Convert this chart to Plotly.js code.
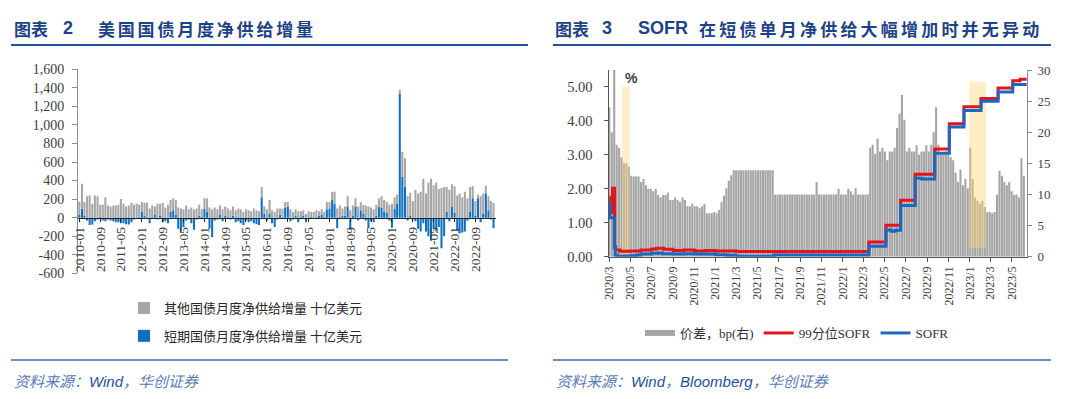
<!DOCTYPE html>
<html><head><meta charset="utf-8">
<script src="https://cdn.plot.ly/plotly-3.0.1.min.js"></script>
<style>html,body{margin:0;padding:0;background:#fff}#chart{width:1080px;height:399px}</style>
</head><body><div id="chart"></div>
<script>
const W = 1080, H = 399;
function px(x){ return x / W; }
function py(y){ return 1 - y / H; }

// ---------- Left chart: monthly net supply (billion USD), 2010-01 .. 2023-04 ----------
const leftStartYear = 2010;
const billsNet = [
  30, 95, 20, -30, -80, -75, -40, -20, 10, -30, -40, -20,        // 2010
  -30, -40, -50, -50, -60, -60, -70, -75, -50, -20, -10, 10,     // 2011
  60, 20, -10, -60, 10, 30, -20, 20, -50, -40, -60, 60,          // 2012
  80, 30, -120, -150, -100, -30, -20, -60, -130, -20, 20, 10,    // 2013
  100, 60, -120, -210, -30, -20, 30, -40, 20, 10, -20, 20,       // 2014
  -50, -40, -60, -80, -30, -50, -40, -60, -70, -80, 220, 40,     // 2015
  -30, 40, -60, -100, -20, 30, 10, 110, 120, -40, -20, 20,       // 2016
  -50, 10, 20, -50, -20, 10, -10, 10, 20, 30, 10, 90,            // 2017
  100, 190, 150, -115, 10, 20, 20, 120, -130, 20, 120, -30,      // 2018
  80, 40, -30, -115, -40, -50, 20, 120, 110, 60, 50, -30,        // 2019
  -110, 100, 150, 1340, 440, 330, -30, 20, -20, -40, -120, -150, // 2020
  -60, -150, -200, -250, -120, -150, -100, -330, -200, 60, -40, 120, // 2021
  50, -140, -170, -160, -150, -30, 60, 209, 20, 209, -50, 40,    // 2022
  263, 80, -20, -115                                             // 2023
];
const otherNet = [
  145, 270, 150, 230, 240, 150, 240, 230, 130, 140, 220, 130,    // 2010
  120, 130, 130, 140, 200, 150, 120, 130, 160, 140, 150, 130,    // 2011
  110, 140, 160, 100, 120, 90, 150, 130, 160, 110, 140, 130,     // 2012
  130, 160, 110, 100, 90, 130, 90, 110, 90, 100, 120, 80,        // 2013
  110, 150, 110, 90, 110, 90, 100, 90, 100, 90, 80, 100,         // 2014
  80, 100, 90, 60, 90, 80, 70, 100, 80, 70, 110, 80,             // 2015
  90, 150, 80, 60, 100, 70, 90, 60, 50, 90, 60, 70,              // 2016
  70, 60, 60, 40, 70, 50, 60, 70, 50, 60, 50, 80,                // 2017
  70, 90, 130, 100, 120, 80, 100, 110, 80, 110, 90, 120,         // 2018
  90, 100, 130, 120, 110, 90, 120, 90, 120, 130, 120, 140,       // 2019
  150, 120, 100, 40, 270, 310, 230, 250, 180, 300, 260, 280,     // 2020
  420, 260, 380, 420, 350, 380, 310, 320, 330, 270, 300, 240,    // 2021
  290, 240, 260, 220, 280, 210, 270, 130, 160, 40, 230, 220,     // 2022
  80, 150, 180, 160                                              // 2023
];
const leftTickVals = [-600, -400, -200, 0, 200, 400, 600, 800, 1000, 1200, 1400, 1600];
const leftTickText = ['-600', '-400', '-200', '0', '200', '400', '600', '800', '1,000', '1,200', '1,400', '1,600'];
const months = billsNet.map((_, i) => {
  const y = leftStartYear + Math.floor(i / 12), m = i % 12 + 1;
  return y + '-' + String(m).padStart(2, '0') + '-01';
});

// ---------- Right chart ----------
// spread (bp, right axis), weekly from 2020-03-02
const spreadStart = '2020-03-02';
const spreadBp = [
  24, 20, 35, 18, 17.5, 16, 15, 15, 14.5, 13,
  12.9, 12.9, 12.9, 12, 12.5, 11.5, 10.9, 10.9, 10.5, 10.9,
  9.9, 9.5, 9.9, 9.9, 10.3, 9.1, 9.1, 9.5, 9.1, 8.8,
  9.5, 9.1, 8.1, 8.1, 8.5, 8.1, 8.1, 7.8, 8.1, 8.5,
  7.0, 7.0, 7.0, 7.2, 7.0, 7.5, 8.8, 9.8, 11, 12.2,
  13.1, 13.9, 13.9, 13.9, 13.9, 13.9, 13.9, 13.9, 13.9, 13.9,
  13.9, 13.9, 13.9, 13.9, 13.9, 13.9, 13.9, 13.9, 10.0, 10.0,
  10.0, 10.0, 10.0, 10.0, 10.0, 10.0, 10.0, 10.0, 10.0, 10.0,
  10.0, 10.0, 10.0, 10.0, 10.0, 12.0, 10.0, 10.0, 10.0, 10.0,
  10.0, 10.0, 10.0, 10.0, 10.9, 10.0, 10.0, 10.0, 10.9, 10.5,
  10.0, 11.0, 10.0, 10.0, 10.0, 10.0, 10.0,
  17.5, 18, 16.5, 19, 16.9, 17.5, 16.9, 15.5, 16.9, 16.9, 17.5,
  20.7, 23, 26, 22, 16.9, 17.5, 16.9, 16.9, 17.9, 16.4,
  16.9, 16.9, 17.9, 16.9, 18, 20, 24, 18, 16.4, 16.4,
  16.9, 16.4, 16, 15.5, 13.5, 12, 14, 11.5, 12.5, 11,
  17.5, 12.5, 9.5, 9, 8.5, 9, 8, 7.2, 7.2, 7.0,
  7.2, 10, 13.8, 13, 12, 11.5, 12, 10.5, 9.9, 10,
  9.5, 15.8, 13
];
const spreadDates = spreadBp.map((_, i) => {
  const d = new Date(spreadStart + 'T00:00:00Z');
  d.setUTCDate(d.getUTCDate() + 7 * i);
  return d.toISOString().slice(0, 10);
});

const sofrDates = ['2020-03-02','2020-03-04','2020-03-16','2020-03-19','2020-03-26','2020-04-15','2020-05-01','2020-05-20','2020-06-01','2020-07-01','2020-07-20','2020-08-01','2020-09-01','2020-10-01','2020-11-01','2020-12-01','2021-01-01','2021-02-01','2021-03-01','2021-06-17','2021-12-01','2022-03-17','2022-05-05','2022-05-20','2022-06-01','2022-06-16','2022-07-28','2022-08-15','2022-09-22','2022-11-03','2022-12-15','2023-02-02','2023-03-23','2023-05-04','2023-06-13'];
const sofrVals  = [1.60, 1.15, 0.26, 0.04, 0.01, 0.02, 0.03, 0.05, 0.08, 0.10, 0.11, 0.09, 0.08, 0.09, 0.08, 0.08, 0.06, 0.04, 0.01, 0.05, 0.05, 0.31, 0.79, 0.75, 0.78, 1.51, 2.31, 2.29, 3.05, 3.82, 4.31, 4.58, 4.85, 5.07, 5.07];

const p99Dates = ['2020-03-02','2020-03-06','2020-03-11','2020-03-17','2020-03-20','2020-04-01','2020-05-01','2020-06-01','2020-07-01','2020-07-15','2020-08-05','2020-09-01','2020-10-01','2020-11-01','2020-12-01','2021-01-01','2021-03-01','2022-03-17','2022-05-05','2022-06-16','2022-07-28','2022-09-22','2022-11-03','2022-12-15','2023-02-02','2023-03-23','2023-05-04','2023-05-25','2023-06-13'];
const p99Vals  = [1.75, 1.30, 2.02, 0.30, 0.20, 0.16, 0.17, 0.20, 0.23, 0.25, 0.22, 0.18, 0.20, 0.17, 0.18, 0.17, 0.15, 0.43, 0.93, 1.66, 2.43, 3.17, 3.92, 4.42, 4.66, 4.97, 5.18, 5.23, 5.23];

// highlighted windows (right-axis units)
const bandStart = ['2020-04-08', '2022-12-30'];
const bandEnd   = ['2020-04-29', '2023-02-16'];
const bandLow   = [0, 1.4];
const bandHigh  = [27.3, 28.1];

const serif = 'Liberation Serif, Times New Roman, serif';
const cjk = 'Noto Sans CJK SC, sans-serif';

const traces = [];
traces.push({
  type: 'bar', x: months, y: billsNet, xaxis: 'x', yaxis: 'y',
  name: '短期国债月度净供给增量 十亿美元', legend: 'legend', legendgroup: 'b', legendrank: 2,
  marker: {color: '#0b6fc3', line: {width: 0}}, hoverinfo: 'x+y'
});
traces.push({
  type: 'bar', x: months, y: otherNet, xaxis: 'x', yaxis: 'y',
  name: '其他国债月度净供给增量 十亿美元', legend: 'legend', legendgroup: 'a', legendrank: 1,
  marker: {color: '#a6a6a6', line: {width: 0}}, hoverinfo: 'x+y'
});

traces.push({
  type: 'bar', x: spreadDates, y: spreadBp, xaxis: 'x2', yaxis: 'y3',
  width: 6 * 86400000, marker: {color: '#a5a5a5', line: {width: 0}},
  showlegend: false, name: '价差，bp(右)'
});
bandStart.forEach((s, i) => {
  traces.push({
    type: 'scatter', mode: 'lines', xaxis: 'x2', yaxis: 'y3',
    x: [s, s, bandEnd[i], bandEnd[i], s],
    y: [bandLow[i], bandHigh[i], bandHigh[i], bandLow[i], bandLow[i]],
    fill: 'toself', fillcolor: 'rgba(250,214,120,0.42)', line: {width: 0},
    showlegend: false, hoverinfo: 'skip'
  });
});
traces.push({
  type: 'scatter', mode: 'lines', x: [null], y: [null], xaxis: 'x2', yaxis: 'y3',
  name: '价差，bp(右)', legend: 'legend2', line: {color: '#a6a6a6', width: 6}
});
traces.push({
  type: 'scatter', mode: 'lines', x: p99Dates, y: p99Vals, xaxis: 'x2', yaxis: 'y4',
  name: '99分位SOFR', legend: 'legend2', line: {color: '#e3141c', width: 3, shape: 'hv'}
});
traces.push({
  type: 'scatter', mode: 'lines', x: sofrDates, y: sofrVals, xaxis: 'x2', yaxis: 'y4',
  name: 'SOFR', legend: 'legend2', line: {color: '#1a68c0', width: 3, shape: 'hv'}
});

const yDomL = [py(273.3), py(69.3)];
const zeroPos = py(217.7);

const layout = {
  width: W, height: H,
  margin: {l: 0, r: 0, t: 0, b: 0},
  paper_bgcolor: '#fff', plot_bgcolor: 'rgba(0,0,0,0)',
  barmode: 'relative', bargap: 0.15,
  showlegend: true,
  xaxis: {
    type: 'date', domain: [px(78), px(496)], range: ['2009-12-16', '2023-04-30'],
    anchor: 'free', position: zeroPos,
    tick0: '2010-01-01', dtick: 'M8', tickformat: '%Y-%m', tickangle: -90,
    showline: true, linecolor: '#222', linewidth: 1,
    ticks: 'outside', ticklen: 3, tickcolor: '#222',
    tickfont: {family: serif, size: 13.5, color: '#404040'},
    showgrid: false, zeroline: false, automargin: false, fixedrange: true
  },
  yaxis: {
    domain: yDomL, range: [-600, 1600], anchor: 'x',
    tickvals: leftTickVals, ticktext: leftTickText,
    showline: true, linecolor: '#8c8c8c', linewidth: 1,
    ticks: 'outside', ticklen: 5, tickcolor: '#8c8c8c', ticklabelstandoff: 5,
    tickfont: {family: serif, size: 14, color: '#404040'},
    showgrid: false, zeroline: false, automargin: false, fixedrange: true
  },
  xaxis2: {
    type: 'date', domain: [px(609), px(1027)], range: ['2020-03-01', '2023-06-14'],
    anchor: 'y3', tick0: '2020-03-01', dtick: 'M2', tickformat: '%Y/%-m', tickangle: -90,
    showline: true, linecolor: '#555', linewidth: 1,
    ticks: 'outside', ticklen: 4, tickcolor: '#555',
    tickfont: {family: serif, size: 12, color: '#404040'},
    showgrid: false, zeroline: false, automargin: false, fixedrange: true
  },
  yaxis3: {
    domain: [py(256.7), py(70)], range: [0, 30], dtick: 5, anchor: 'x2', side: 'right',
    showline: true, linecolor: '#8c8c8c', linewidth: 1,
    ticks: 'outside', ticklen: 4, tickcolor: '#8c8c8c', ticklabelstandoff: 3,
    tickfont: {family: serif, size: 13, color: '#404040'},
    showgrid: false, zeroline: false, automargin: false, fixedrange: true
  },
  yaxis4: {
    overlaying: 'y3', range: [0, 5.5], anchor: 'x2', side: 'left',
    tickvals: [0, 1, 2, 3, 4, 5], tickformat: '.2f',
    showline: true, linecolor: '#555', linewidth: 1.5,
    ticks: 'outside', ticklen: 4, tickcolor: '#555', ticklabelstandoff: 8,
    tickfont: {family: serif, size: 14.5, color: '#404040'},
    showgrid: false, zeroline: false, automargin: false, fixedrange: true
  },
  legend: {
    x: px(124), y: py(293), xanchor: 'left', yanchor: 'top',
    orientation: 'v', traceorder: 'grouped', tracegroupgap: 8,
    font: {family: cjk, size: 13, color: '#262626'}, bgcolor: 'rgba(0,0,0,0)'
  },
  legend2: {
    x: px(640), y: py(318), xanchor: 'left', yanchor: 'top',
    orientation: 'h', font: {family: serif + ', ' + cjk, size: 13, color: '#333'},
    bgcolor: 'rgba(0,0,0,0)'
  },
  shapes: [
    {type: 'line', xref: 'paper', yref: 'paper', x0: px(11), x1: px(528), y0: py(45), y1: py(45), line: {color: '#24539b', width: 2}},
    {type: 'line', xref: 'paper', yref: 'paper', x0: px(553), x1: px(1051), y0: py(45), y1: py(45), line: {color: '#24539b', width: 2}},
    {type: 'line', xref: 'paper', yref: 'paper', x0: px(11), x1: px(508), y0: py(360), y1: py(360), line: {color: '#3c68aa', width: 1.5}},
    {type: 'line', xref: 'paper', yref: 'paper', x0: px(553), x1: px(1051), y0: py(360), y1: py(360), line: {color: '#3c68aa', width: 1.5}}
  ],
  annotations: []
};

const titleColor = '#1d4286';
function ann(text, x, y, font, extra){
  return Object.assign({text: text, xref: 'paper', yref: 'paper', x: px(x), y: py(y), xanchor: 'left', yanchor: 'middle', showarrow: false, font: font}, extra || {});
}
const tFontCJK = {family: cjk, size: 17, color: titleColor, weight: 'bold'};
const tFontLat = {family: 'Liberation Sans, Arial, sans-serif', size: 18, color: titleColor, weight: 'bold'};
layout.annotations.push(ann('图表', 12, 28, tFontCJK));
layout.annotations.push(ann('2', 61, 28, tFontLat));
layout.annotations.push(ann('<span style="letter-spacing:2.8px">美国国债月度净供给增量</span>', 96, 28, tFontCJK));
layout.annotations.push(ann('图表', 553, 28, tFontCJK));
layout.annotations.push(ann('3', 600, 28, tFontLat));
layout.annotations.push(ann('SOFR', 636, 28, tFontLat));
layout.annotations.push(ann('<span style="letter-spacing:3.2px">在短债单月净供给大幅增加时并无异动</span>', 697, 28, tFontCJK));
layout.annotations.push(ann('%', 623, 78, {family: 'Liberation Sans, Arial, sans-serif', size: 14, color: '#404040', weight: 'bold'}));
const srcFont = {family: 'Liberation Sans, Arial, ' + cjk, size: 15, color: '#5a7bb5'};
layout.annotations.push(ann('<i>资料来源：<span style="color:#1f4f9c">Wind</span>，华创证券</i>', 12, 381, srcFont));
layout.annotations.push(ann('<i>资料来源：<span style="color:#1f4f9c">Wind</span>，<span style="color:#1f4f9c">Bloomberg</span>，华创证券</i>', 554, 381, srcFont));

Plotly.newPlot('chart', traces, layout, {displayModeBar: false, staticPlot: true});
</script></body></html>
